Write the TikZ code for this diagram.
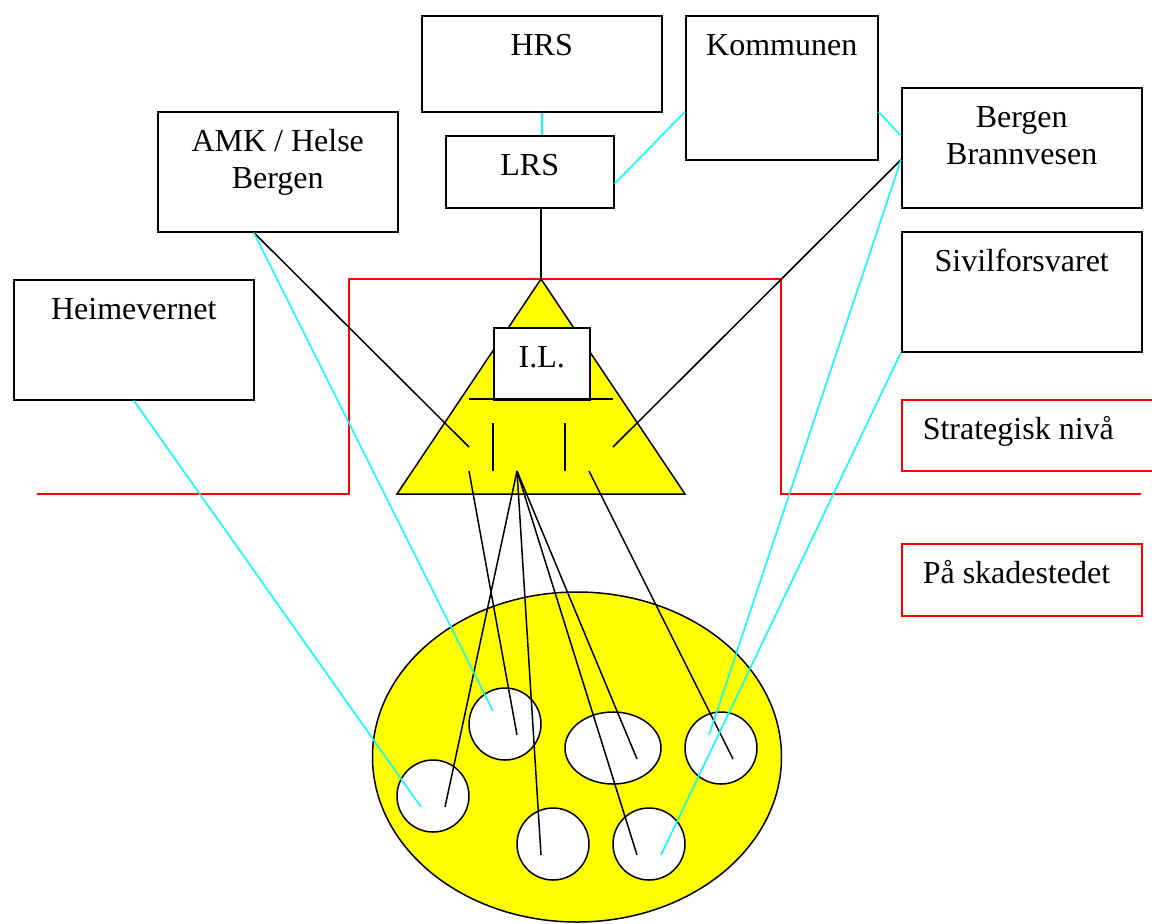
\documentclass[tikz,border=0pt]{standalone}
\usepackage{fontspec}
\setmainfont{Liberation Serif}
\usetikzlibrary{shapes.geometric, positioning, calc}
\definecolor{aqua}{RGB}{0,255,255}
\definecolor{sun}{RGB}{255,255,0}
\definecolor{alarm}{RGB}{255,0,0}

\begin{document}
\begin{tikzpicture}[
    x=0.5pt, y=-0.5pt,
    every node/.style={font=\fontsize{16}{18.8}\selectfont},
    box/.style={draw, line width=0.75pt, fill=white, anchor=north west, inner xsep=0pt, inner ysep=0pt, align=center, text height=20pt},
    twoline/.style={box, text height=38.5pt, text depth=21.5pt},
    redbox/.style={box, draw=alarm, align=left, inner xsep=10.5pt, execute at begin node={\spaceskip=0pt\relax}},
    blob/.style={draw, ellipse, line width=0.75pt, fill=sun, inner sep=0pt},
    spot/.style={draw, ellipse, line width=0.75pt, fill=white, inner sep=0pt, minimum width=36pt, minimum height=36pt},
    tie/.style={draw, line width=0.75pt},
    link/.style={draw=aqua, line width=0.75pt},
    level/.style={draw=alarm, line width=0.8pt}
]
\useasboundingbox (0,0) rectangle (1152,923);

\node[box, minimum width=120pt, text depth=28pt] (hrs) at (421,15) {HRS};
\node[box, minimum width=84pt, text depth=16pt] (lrs) at (445,135) {LRS};
\node[box, minimum width=96pt, text depth=52pt] (kommune) at (685,15) {Kommunen};
\node[twoline, minimum width=120pt] (brann) at (901,87) {Bergen\\Brannvesen};
\node[box, minimum width=120pt, text depth=40pt] (sivil) at (901,231) {Sivilforsvaret};
\node[twoline, minimum width=120pt] (amk) at (157,111) {AMK / Helse\\Bergen};
\node[box, minimum width=120pt, text depth=40pt] (heim) at (13,279) {Heimevernet};
\node[redbox, text width=109pt, text depth=15.5pt] (strat) at (901,399) {Strategisk nivå};
\node[redbox, text width=99pt, text depth=16pt] (skade) at (901,543) {På skadestedet};

% Levels
\draw[level] (37,494) -| (349,279) -| (781,494) -- (1141,494);

% Pyramid
\coordinate (apex) at (541,279);
\draw[tie, fill=sun] (apex) -- (397,494) -- (685,494) -- cycle;
\node[box, minimum width=48pt, text depth=16pt] (il) at (493,327) {I.L.};
\draw[tie] (469,399) -- (613,399);
\draw[tie] (493,423) -- (493,471);
\draw[tie] (565,423) -- (565,471);
\coordinate (amkend) at (469,447);
\coordinate (brannend) at (613,447);
\coordinate (fanL) at (469,471);
\coordinate (fanM) at (517,471);
\coordinate (fanR) at (589,471);

% Scene
\node[blob, minimum width=204.5pt, minimum height=165pt] (scene) at (577,757) {};
\node[spot] (c1) at (433,796) {};
\node[spot] (c2) at (505,724) {};
\node[spot, minimum width=48pt] (c3) at (613,748) {};
\node[spot] (c4) at (721,748) {};
\node[spot] (c5) at (553,844) {};
\node[spot] (c6) at (649,844) {};

% Connectors
\draw[link] (hrs.south) -- (hrs.south |- lrs.north);
\draw[link] ($(lrs.east)+(0,12)$) -- ($(kommune.west)+(0,24)$);
\draw[link] ($(kommune.east)+(0,24)$) -- ($(brann.west)+(0,-12)$);
\draw[tie] (apex |- lrs.south) -- (apex);
\draw[tie] ($(amk.south)+(-24,0)$) -- (amkend);
\draw[tie] ($(brann.west)+(0,12)$) -- (brannend);
\draw[tie] (fanL) -- ($(c2)+(12,11)$);
\draw[tie] (fanR) -- ($(c4)+(12,11)$);
\draw[tie] (fanM) -- ($(c1)+(12,11)$);
\draw[tie] (fanM) -- ($(c5)+(-12,11)$);
\draw[tie] (fanM) -- ($(c3)+(24,11)$);
\draw[tie] (fanM) -- ($(c6)+(-12,11)$);
\draw[link] (heim.south) -- ($(c1)+(-12,11)$);
\draw[link] ($(amk.south)+(-24,0)$) -- ($(c2)+(-12,-13)$);
\draw[link] ($(brann.west)+(0,12)$) -- ($(c4)+(-12,-13)$);
\draw[link] (sivil.south west) -- ($(c6)+(12,11)$);

\end{tikzpicture}
\end{document}
